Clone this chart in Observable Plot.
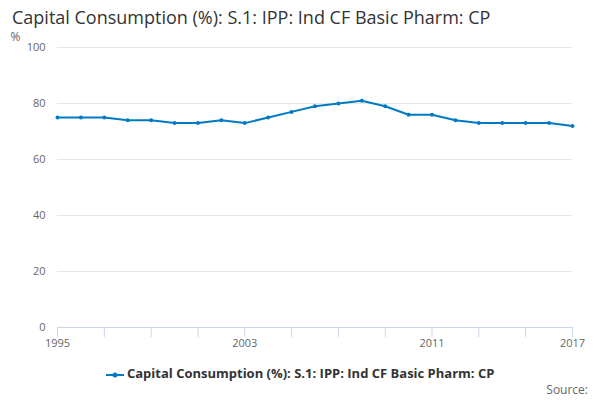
<!DOCTYPE html>
<html><head><meta charset="utf-8">
<script src="https://cdn.jsdelivr.net/npm/d3@7"></script>
<script src="https://cdn.jsdelivr.net/npm/@observablehq/plot@0.6"></script>
<style>
body{margin:0;font-family:"Open Sans",sans-serif;}
#wrap{position:relative;width:600px;height:400px;}
#title{position:absolute;left:12px;top:5px;font-size:18px;color:#333;}
#legend{position:absolute;left:0;width:600px;top:364px;text-align:center;font-size:13px;font-weight:bold;color:#333;}
#source{position:absolute;right:12px;top:381px;font-size:12px;color:#666;}
</style></head><body>
<div id="wrap"><div id="chart"></div>
<div id="title">Capital Consumption (%): S.1: IPP: Ind CF Basic Pharm: CP</div>
<div id="legend"><svg width="18" height="10" style="vertical-align:middle"><line x1="0" y1="5" x2="18" y2="5" stroke="#007ac3" stroke-width="2"/><circle cx="9" cy="5" r="2.5" fill="#007ac3"/></svg> Capital Consumption (%): S.1: IPP: Ind CF Basic Pharm: CP</div>
<div id="source">Source:</div></div>
<script>
const years=d3.range(1995,2018);
const values=[75,75,75,74,74,73,73,74,73,75,77,79,80,81,79,76,76,74,73,73,73,73,72];
const yTicks=[0,20,40,60,80,100];
const xLabels=[1995,2003,2011,2017];
const data=years.map((y,i)=>({year:y,value:values[i]}));
const p=Plot.plot({width:600,height:400,marginTop:47,marginBottom:73,marginLeft:57,marginRight:28,
style:{fontFamily:"Open Sans",fontSize:"11px",color:"#666"},
x:{domain:[1995,2017]},y:{domain:[0,100]},
marks:[
Plot.gridY(yTicks,{stroke:"#e6e6e6",strokeOpacity:1}),
Plot.ruleY([0],{stroke:"#ccd6eb"}),
Plot.axisX(d3.range(1995,2018,2),{tickFormat:()=>"",tickSize:10,stroke:"#ccd6eb",label:null}),
Plot.axisY(yTicks,{tickSize:0,tickPadding:12,label:null,fontSize:11}),
Plot.text(["%"],{frameAnchor:"top-left",dx:-47,dy:-15,fontSize:12}),
Plot.axisX(xLabels,{tickFormat:d=>String(d),tickSize:0,tickPadding:12,label:null,fontSize:11}),
Plot.line(data,{x:"year",y:"value",stroke:"#007ac3",strokeWidth:2}),
Plot.dot(data,{x:"year",y:"value",fill:"#007ac3",r:2})
]});
document.getElementById("chart").append(p);
</script></body></html>
